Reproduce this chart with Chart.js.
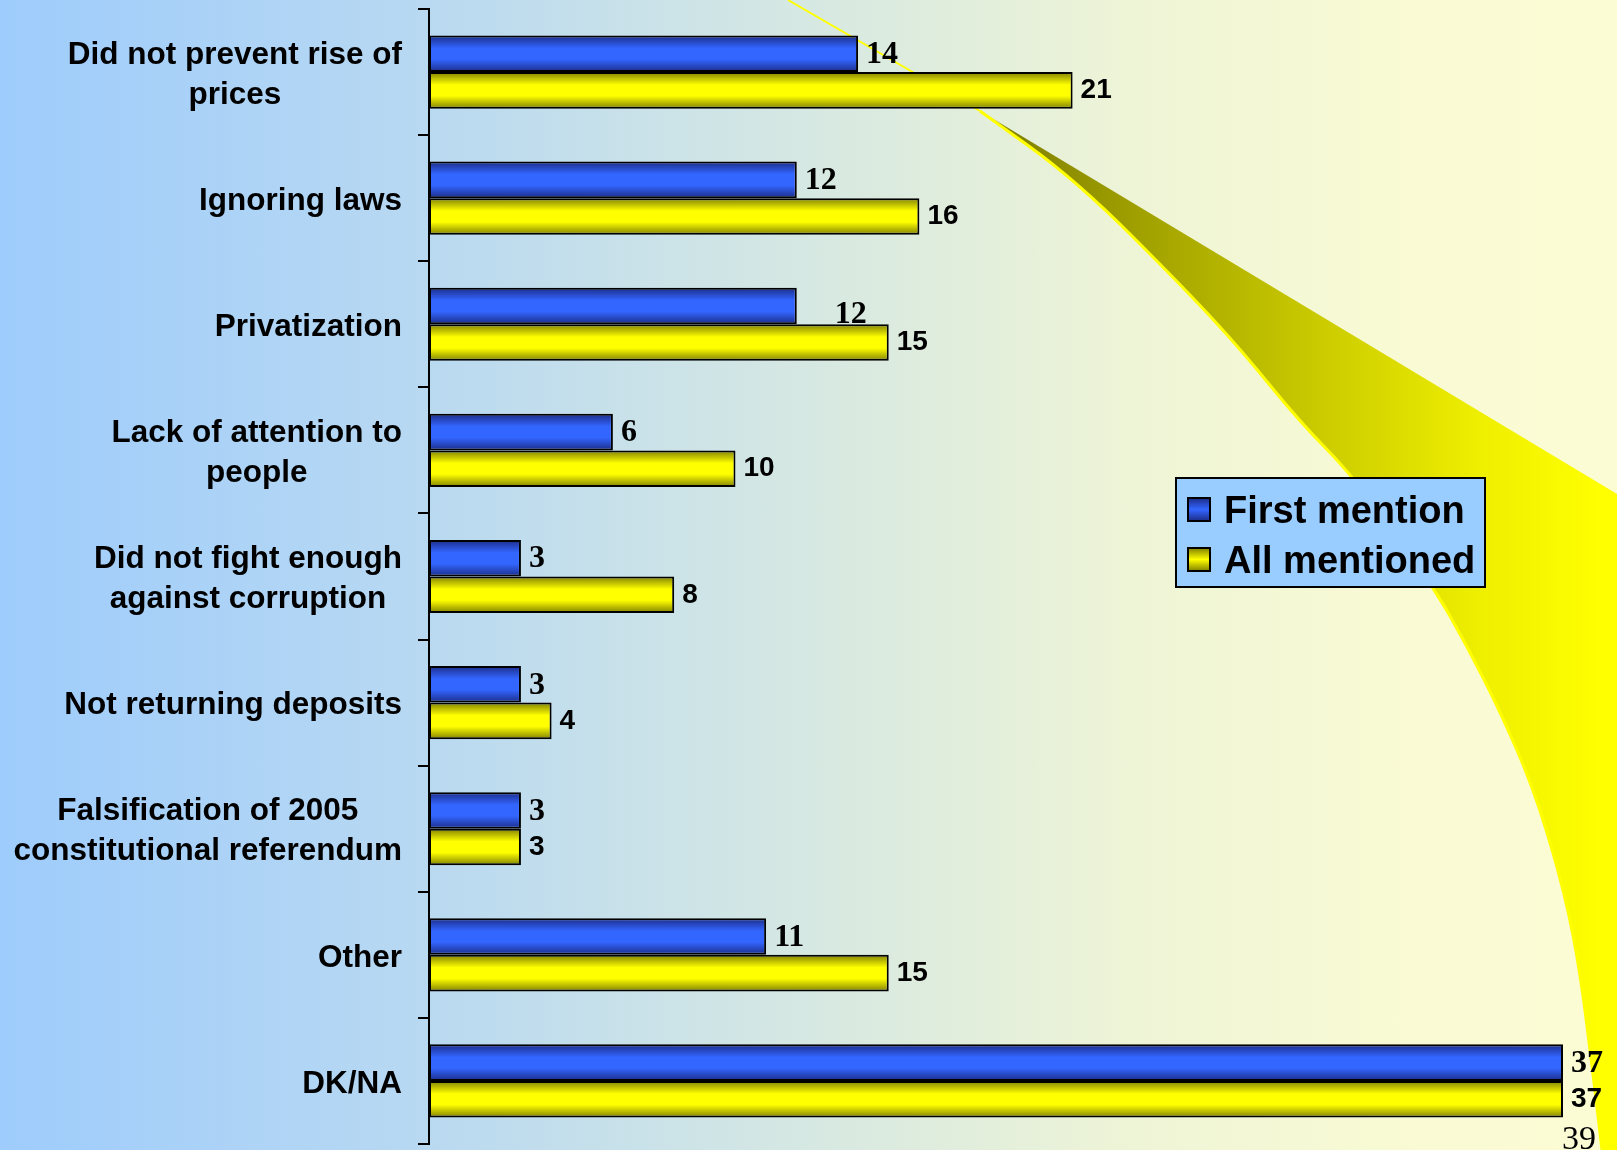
<!DOCTYPE html>
<html>
<head>
<meta charset="utf-8">
<script src="https://cdn.jsdelivr.net/npm/chart.js@4.4.0/dist/chart.umd.min.js"></script>
<style>
	html, body { margin: 0; padding: 0; overflow: hidden; }
	body {
		width: 1617px;
		height: 1150px;
		background: linear-gradient( to right, rgb(158,204,252) 0%, rgb(183,216,242) 25%, rgb(214,232,226) 50%, rgb(238,244,214) 70%, rgb(248,250,212) 85%, rgb(252,252,212) 100% );
	}
	canvas { display: block; }
</style>
</head>
<body>
<canvas id="chart" width="1617" height="1150"></canvas>
<script>
( function () {
	'use strict';

	// ── Data ──────────────────────────────────────────────────────────────
	var categories = [
		[ 'Did not prevent rise of', 'prices' ],
		'Ignoring laws',
		'Privatization',
		[ 'Lack of attention to', 'people' ],
		[ 'Did not fight enough', 'against corruption' ],
		'Not returning deposits',
		[ 'Falsification of 2005', 'constitutional referendum' ],
		'Other',
		'DK/NA'
	];
	var firstMention = [ 14, 12, 12, 6, 3, 3, 3, 11, 37 ];
	var allMentioned = [ 21, 16, 15, 10, 8, 4, 3, 15, 37 ];
	var seriesNames  = [ 'First mention', 'All mentioned' ];
	var xMax = 37;
	var pageNumber = '39';

	var CAT_PCT = 0.58;
	var SANS  = '"Liberation Sans", Arial, sans-serif';
	var SERIF = '"Liberation Serif", "Times New Roman", serif';

	// vertical bevel gradient for each bar, worked out from the category scale
	function barFill( dark, light ) {
		return function ( ctx ) {
			var chart = ctx.chart, y = chart.scales.y;
			if ( ! y || ctx.type !== 'data' ) { return light; }
			var band = ( y.bottom - y.top ) / chart.data.labels.length;
			var half = band * CAT_PCT / 2;
			var top  = y.getPixelForValue( ctx.dataIndex ) - half + ctx.datasetIndex * half;
			if ( ! isFinite( top ) || ! isFinite( half ) || half <= 0 ) { return light; }
			var g = chart.ctx.createLinearGradient( 0, top, 0, top + half );
			g.addColorStop( 0, dark );
			g.addColorStop( 0.35, light );
			g.addColorStop( 0.65, light );
			g.addColorStop( 1, dark );
			return g;
		};
	}

	function smoothPath( c, pts, connect ) {
		if ( connect ) { c.lineTo( pts[0][0], pts[0][1] ); } else { c.moveTo( pts[0][0], pts[0][1] ); }
		for ( var i = 1; i < pts.length - 1; i++ ) {
			var mx = ( pts[i][0] + pts[i + 1][0] ) / 2, my = ( pts[i][1] + pts[i + 1][1] ) / 2;
			c.quadraticCurveTo( pts[i][0], pts[i][1], mx, my );
		}
		var last = pts[pts.length - 1];
		c.lineTo( last[0], last[1] );
	}

	// ── Slide decoration: the yellow swoosh behind the bars ────────────────
	var swoosh = {
		id : 'swoosh',
		beforeDatasetsDraw : function ( chart ) {
			var c = chart.ctx;
			var curve = [
				[ 1602, 1150 ], [ 1590, 1047 ], [ 1577, 952 ], [ 1560, 875 ], [ 1533, 787 ],
				[ 1500, 711 ], [ 1467, 646 ], [ 1433, 586 ], [ 1355, 478 ], [ 1299, 421 ],
				[ 1243, 352 ], [ 1187, 291 ], [ 1076, 180 ], [ 980, 111 ]
			];
			c.save();
			var g = c.createLinearGradient( 980, 0, 1600, 0 );
			g.addColorStop( 0, '#7a7a00' );
			g.addColorStop( 0.5, '#c4c400' );
			g.addColorStop( 0.8, '#eeee00' );
			g.addColorStop( 1, '#ffff00' );
			c.fillStyle = g;
			c.beginPath();
			c.moveTo( 980, 111 );
			c.lineTo( 1617, 494 );
			c.lineTo( 1617, 1150 );
			smoothPath( c, curve, true );
			c.closePath();
			c.fill();

			c.strokeStyle = '#ffff00';
			c.lineWidth = 3;
			c.beginPath();
			smoothPath( c, curve, false );
			c.stroke();
			c.lineWidth = 2;
			c.beginPath();
			c.moveTo( 788, 0 );
			c.lineTo( 980, 111 );
			c.stroke();
			c.restore();
		}
	};

	// ── Category labels: right-aligned block, lines centred inside it ───────
	var catLabels = {
		id : 'catLabels',
		afterDraw : function ( chart ) {
			var y = chart.scales.y, c = chart.ctx;
			var right = y.right - 11 - 16;
			c.save();
			c.font = 'bold 31.5px ' + SANS;
			c.fillStyle = '#000';
			c.textAlign = 'center';
			c.textBaseline = 'middle';
			chart.data.labels.forEach( function ( lab, i ) {
				var lines = [].concat( lab );
				var w = Math.max.apply( null, lines.map( function ( l ) { return c.measureText( l ).width; } ) );
				var cx = right - w / 2;
				var cy = y.getPixelForTick( i ) + 3;
				lines.forEach( function ( l, k ) {
					c.fillText( l, cx, cy + ( k - ( lines.length - 1 ) / 2 ) * 40 );
				} );
			} );
			c.restore();
		}
	};

	// ── Value labels at the bar ends ───────────────────────────────────────
	var valueLabels = {
		id : 'valueLabels',
		afterDatasetsDraw : function ( chart ) {
			var c = chart.ctx;
			c.save();
			c.fillStyle = '#000';
			c.textAlign = 'left';
			c.textBaseline = 'middle';
			chart.data.datasets.forEach( function ( ds, di ) {
				chart.getDatasetMeta( di ).data.forEach( function ( bar, i ) {
					var x = bar.x + 8, y = bar.y;
					if ( di === 0 ) {
						c.font = 'bold 32px ' + SERIF;
						y += 1;
						// the original slide has this one label knocked out of place
						if ( chart.data.labels[i] === 'Privatization' ) { x += 30; y += 8; }
					} else {
						c.font = 'bold 28px ' + SANS;
					}
					c.fillText( String( ds.data[i] ), x, y );
				} );
			} );
			c.restore();
		}
	};

	// ── Boxed legend and page number ───────────────────────────────────────
	var boxLegend = {
		id : 'boxLegend',
		afterDraw : function ( chart ) {
			var c = chart.ctx;
			c.save();
			c.fillStyle = '#99ccff';
			c.fillRect( 1176, 478, 309, 109 );
			c.strokeStyle = '#000';
			c.lineWidth = 2;
			c.strokeRect( 1176, 478, 309, 109 );
			var swatch = [ [ '#1c2c88', '#3366ff' ], [ '#808000', '#ffff00' ] ];
			c.font = 'bold 38px ' + SANS;
			c.textAlign = 'left';
			c.textBaseline = 'alphabetic';
			chart.data.datasets.forEach( function ( ds, i ) {
				var base = 523 + i * 50;
				var top = base - 25;
				var g = c.createLinearGradient( 0, top, 0, top + 23 );
				g.addColorStop( 0, swatch[i][0] );
				g.addColorStop( 0.5, swatch[i][1] );
				g.addColorStop( 1, swatch[i][0] );
				c.fillStyle = g;
				c.fillRect( 1188, top, 22, 23 );
				c.lineWidth = 2;
				c.strokeRect( 1188, top, 22, 23 );
				c.fillStyle = '#000';
				c.fillText( ds.label, 1224, base );
			} );
			c.font = '34px ' + SERIF;
			c.fillText( pageNumber, 1562, 1149 );
			c.restore();
		}
	};

	new Chart( document.getElementById( 'chart' ), {
		type : 'bar',
		data : {
			labels   : categories,
			datasets : [
				{
					label           : seriesNames[0],
					data            : firstMention,
					backgroundColor : barFill( '#1c2c88', '#3366ff' ),
					borderColor     : '#000',
					borderWidth     : 2,
					borderSkipped   : false,
				},
				{
					label           : seriesNames[1],
					data            : allMentioned,
					backgroundColor : barFill( '#808000', '#ffff00' ),
					borderColor     : '#000',
					borderWidth     : 2,
					borderSkipped   : false,
				},
			],
		},
		options : {
			indexAxis           : 'y',
			responsive          : false,
			animation           : false,
			categoryPercentage  : CAT_PCT,
			barPercentage       : 1,
			layout  : { padding : { left : 0, right : 54, top : 9, bottom : 6 } },
			plugins : { legend : { display : false }, tooltip : { enabled : false } },
			scales  : {
				x : { display : false, min : 0, max : xMax },
				y : {
					afterFit : function ( scale ) { scale.width = 429; scale.paddingTop = 0; scale.paddingBottom = 0; },
					grid   : { drawOnChartArea : false, drawTicks : true, tickLength : 11, color : '#000', lineWidth : 2, offset : true },
					border : { display : true, color : '#000', width : 2 },
					ticks  : { display : false },
				},
			},
		},
		plugins : [ swoosh, valueLabels, catLabels, boxLegend ],
	} );
} )();
</script>
</body>
</html>
